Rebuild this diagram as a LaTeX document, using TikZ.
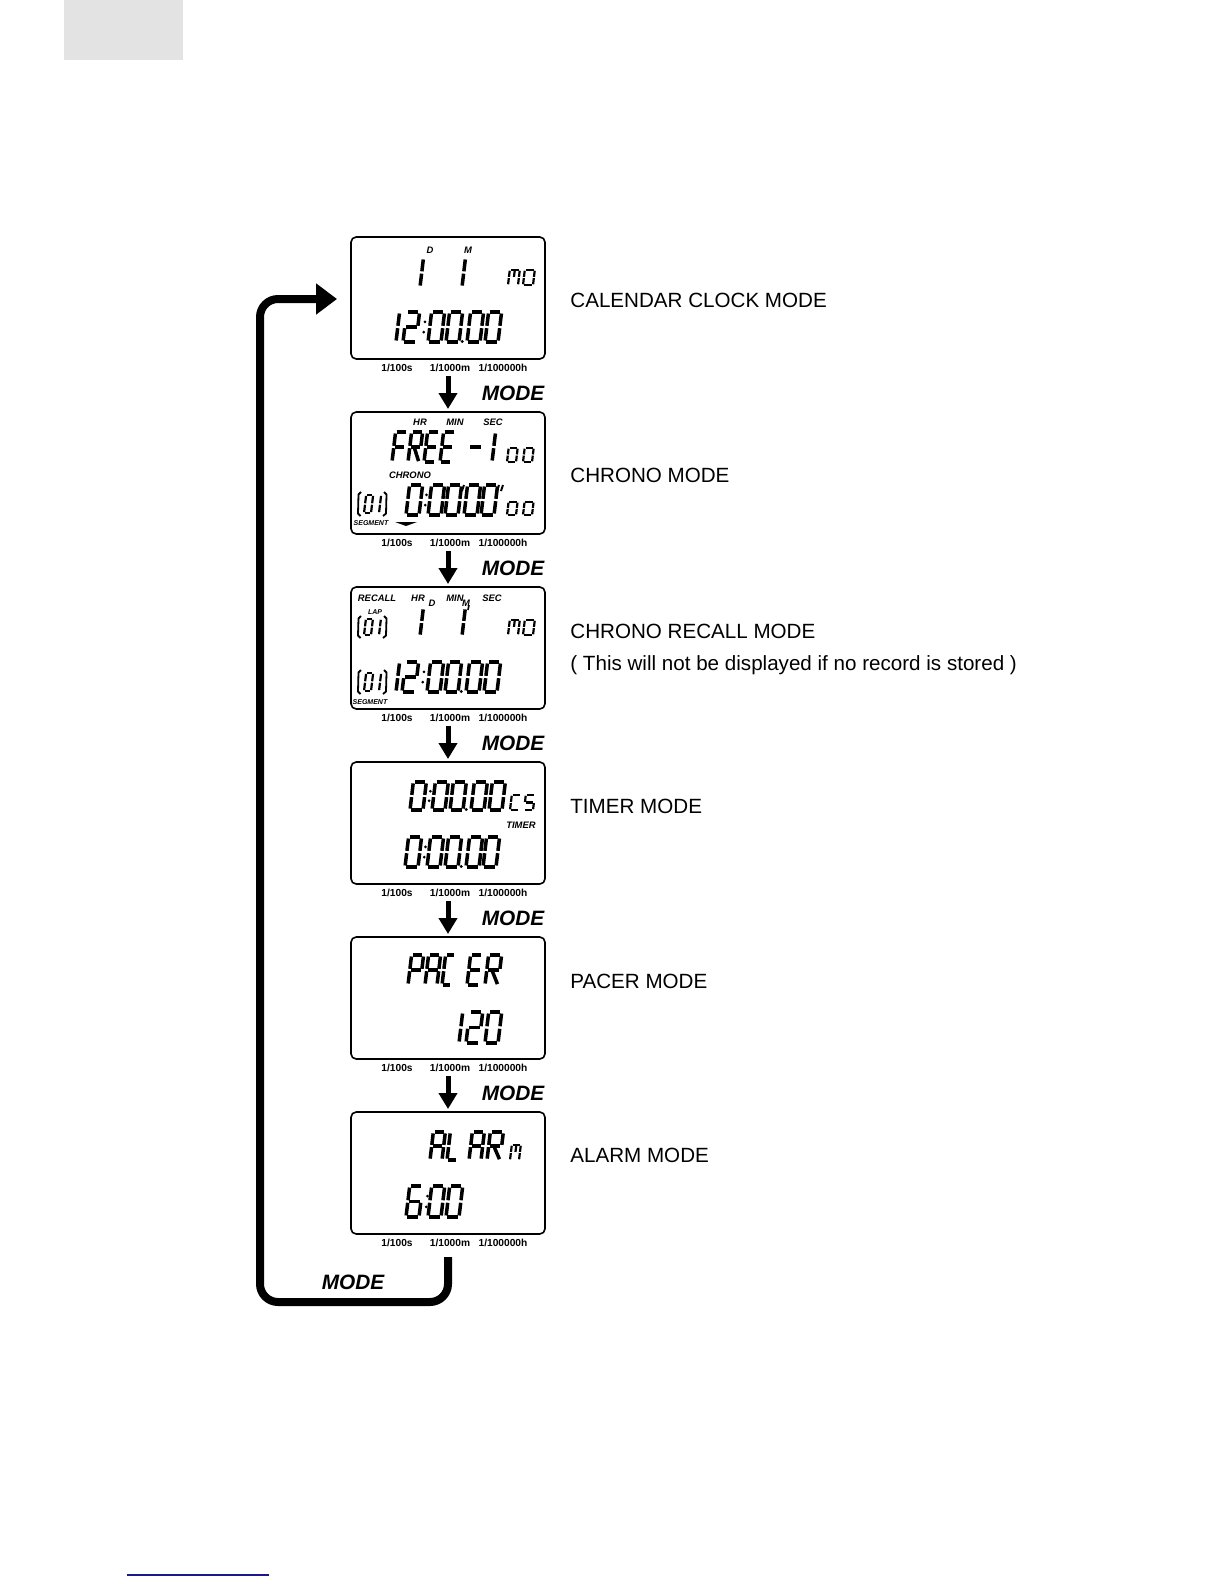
\documentclass[tikz,border=0pt]{standalone}
\usepackage{fontspec}
\setmainfont{Liberation Sans}
\usetikzlibrary{arrows.meta}
\definecolor{navyline}{RGB}{25,25,140}
\definecolor{graybox}{RGB}{227,227,227}
% seven-segment pieces (local unit square: width 1, height 1, y up)
\def\sgA{\draw (0.1,1)--(0.9,1);}
\def\sgB{\draw (1,0.95)--(1,0.54);}
\def\sgC{\draw (1,0.46)--(1,0.05);}
\def\sgD{\draw (0.1,0)--(0.9,0);}
\def\sgE{\draw (0,0.05)--(0,0.46);}
\def\sgF{\draw (0,0.54)--(0,0.95);}
\def\sgG{\draw (0.1,0.5)--(0.9,0.5);}
\def\sgH{\draw (0.5,0.54)--(0.5,0.95);}
\def\sgI{\draw (0.5,0.05)--(0.5,0.46);}
\def\sgR{\draw (0.45,0.45)--(0.95,0.03);}
\newcommand\lcdchar[6][1.75pt]{%
  \begin{scope}[shift={(#2,#3)},xslant=0.12,xscale=#4,yscale=-#5,line width=#1]
    \foreach \s in {#6}{\csname sg\s\endcsname}
  \end{scope}}
\newcommand\lcdcolon[3]{% x, ybottom, h
  \fill ({#1+0.12*#3*0.33},{#2-#3*0.33}) circle[radius=1.5];
  \fill ({#1+0.12*#3*0.67},{#2-#3*0.67}) circle[radius=1.5];}
\newcommand\lcddot[2]{\fill (#1,#2) circle[radius=1.6];}
\newcommand\lcdbrk[4]{% xleft, xright, ytop, ybottom
  \draw[line width=0.9pt] ({#1+3},#3) -- ({#1+0.5},{#3+2.5}) -- (#1,{#4-2.5}) -- ({#1+2.5},#4);
  \draw[line width=0.9pt] ({#2-2},#3) -- ({#2+0.5},{#3+2.5}) -- (#2,{#4-2.5}) -- ({#2-3},#4);}
\newcommand\lcdzeroone[3]{% xleft, ytop, ybottom
  \pgfmathsetmacro\zoxr{#1+28}%
  \pgfmathsetmacro\zoxa{#1+6}%
  \pgfmathsetmacro\zoxb{#1+14}%
  \pgfmathsetmacro\zoy{#3-3}%
  \pgfmathsetmacro\zoh{#3-#2-6}%
  \lcdbrk{#1}{\zoxr}{#2}{#3}%
  \lcdchar[1.1pt]{\zoxa}{\zoy}{7}{\zoh}{A,B,C,D,E,F}%
  \lcdchar[1.1pt]{\zoxb}{\zoy}{7}{\zoh}{B,C}}
\begin{document}
\begin{tikzpicture}[x=0.5pt,y=-0.5pt,
  lcdbox/.style={draw,line width=0.8pt,rounded corners=2.6pt,minimum width=97pt,minimum height=61pt,inner sep=0pt},
  tinylbl/.style={font=\bfseries\itshape\fontsize{4.7}{5}\selectfont,inner sep=0pt},
  seglbl/.style={font=\bfseries\itshape\fontsize{3.5}{4}\selectfont,inner sep=0pt},
  scllbl/.style={font=\bfseries\fontsize{5.1}{6}\selectfont,inner sep=0pt},
  modelbl/.style={font=\bfseries\itshape\fontsize{10.4}{12}\selectfont,inner sep=0pt},
  desc/.style={font=\fontsize{10.3}{12}\selectfont,inner sep=0pt,anchor=base west},
  modearrow/.style={line width=2.5pt,-{Triangle[width=9pt,length=8pt]}},
  loopline/.style={line width=4pt,rounded corners=9pt,-{Triangle[width=15pt,length=10.5pt]}}]
\useasboundingbox (0,0) rectangle (1224,1584);
% page decorations
\fill[graybox] (64,0) rectangle (183,60);
\draw[navyline,line width=0.8pt] (127,1575) -- (269,1575);
% boxes
\foreach \k in {0,...,5}{
  \node[lcdbox] (b\k) at (448,{298+175*\k}) {};
  \node[scllbl] (sa\k) at (397,{368+175*\k}) {1/100s};
  \node[scllbl] (sb\k) at (450,{368+175*\k}) {1/1000m};
  \node[scllbl] (sc\k) at (503,{368+175*\k}) {1/100000h};
}
\foreach \k in {0,...,4}{
  \coordinate (as\k) at (448,{376+175*\k});
  \coordinate (ae\k) at (448,{409+175*\k});
  \draw[modearrow] (as\k) -- (ae\k);
  \node[modelbl] (m\k) at (513,{393+175*\k}) {MODE};
}
% loop back
\coordinate (l0) at (448,1257);
\coordinate (l1) at (448,1302);
\coordinate (l2) at (260,1302);
\coordinate (l3) at (260,299);
\coordinate (l4) at (337,299);
\draw[loopline] (l0) -- (l1) -- (l2) -- (l3) -- (l4);
\node[modelbl] (mloop) at (353,1282) {MODE};
% descriptions
\node[desc] (d1) at (570,307.5) {CALENDAR CLOCK MODE};
\node[desc] (d2) at (570,482) {CHRONO MODE};
\node[desc] (d3) at (570,638.5) {CHRONO RECALL MODE};
\node[desc] (d3b) at (570,670) {( This will not be displayed if no record is stored )};
\node[desc] (d4) at (570,813.5) {TIMER MODE};
\node[desc] (d5) at (570,988.5) {PACER MODE};
\node[desc] (d6) at (570,1162.5) {ALARM MODE};
% ---------- box 1: calendar clock
\node[tinylbl] (t1d) at (430,250) {D};
\node[tinylbl] (t1m) at (468,250) {M};
\lcdchar{408}{287}{12}{29}{B,C}
\lcdchar{450}{287}{12}{29}{B,C}
\lcdchar[1.1pt]{508}{285}{10}{15}{A,B,C,E,F,H}
\lcdchar[1.1pt]{523}{285}{10}{15}{A,B,C,D,E,F}
\lcdchar{383}{342}{13}{30}{B,C}
\lcdchar{403}{342}{13}{30}{A,B,G,E,D}
\lcdcolon{422.5}{342}{30}
\lcdchar{428}{342}{13}{30}{A,B,C,D,E,F}
\lcdchar{446}{342}{13}{30}{A,B,C,D,E,F}
\lcddot{462.3}{341.5}
\lcdchar{467}{342}{13}{30}{A,B,C,D,E,F}
\lcdchar{485}{342}{13}{30}{A,B,C,D,E,F}
% ---------- box 2: chrono
\node[tinylbl] (t2hr) at (420,422) {HR};
\node[tinylbl] (t2min) at (455,422) {MIN};
\node[tinylbl] (t2sec) at (493,422) {SEC};
\lcdchar{392}{462}{11}{30}{A,F,G,E}
\lcdchar{408}{462}{11}{30}{A,B,F,G,E,R}
\lcdchar{424}{462}{11}{30}{A,F,G,E,D}
\lcdchar{440}{462}{11}{30}{A,F,G,E,D}
\lcdchar{467}{462}{13}{30}{G}
\lcdchar{480}{462}{12}{30}{B,C}
\lcdchar[1.1pt]{507}{462}{9}{14}{A,B,C,D,E,F}
\lcdchar[1.1pt]{523}{462}{9}{14}{A,B,C,D,E,F}
\node[tinylbl] (t2chr) at (410,475) {CHRONO};
\lcdzeroone{358}{492}{516}
\lcdchar{406}{515}{13}{30}{A,B,C,D,E,F}
\lcdcolon{424}{515}{30}
\lcdchar{428}{515}{13}{30}{A,B,C,D,E,F}
\lcdchar{445}{515}{13}{30}{A,B,C,D,E,F}
\draw[line width=1pt] (464,485) -- (462,491);
\lcdchar{464}{515}{13}{30}{A,B,C,D,E,F}
\lcdchar{481}{515}{13}{30}{A,B,C,D,E,F}
\draw[line width=1pt] (499,485) -- (497,491);
\draw[line width=1pt] (503,485) -- (501,491);
\lcdchar[1.1pt]{507}{515}{9}{13}{A,B,C,D,E,F}
\lcdchar[1.1pt]{523}{515}{9}{13}{A,B,C,D,E,F}
\node[seglbl] (t2seg) at (371,523) {SEGMENT};
\fill (395,522) -- (417,522) -- (406,526) -- cycle;
% ---------- box 3: chrono recall
\node[tinylbl] (t3rec) at (377,598) {RECALL};
\node[tinylbl] (t3hr) at (418,598) {HR};
\node[tinylbl] (t3d) at (432,603) {D};
\node[tinylbl] (t3min) at (455,598) {MIN};
\node[tinylbl] (t3m) at (466,603) {M};
\node[tinylbl] (t3sec) at (492,598) {SEC};
\node[seglbl] (t3lap) at (375,612) {LAP};
\draw[line width=0.8pt] (469,605) -- (468,610);
\lcdzeroone{358}{616}{638}
\lcdchar{408}{636}{12}{28}{B,C}
\lcdchar{450}{636}{12}{28}{B,C}
\lcdchar[1.1pt]{508}{635}{10}{15}{A,B,C,E,F,H}
\lcdchar[1.1pt]{523}{635}{10}{15}{A,B,C,D,E,F}
\lcdzeroone{358}{670}{694}
\lcdchar{383}{692}{13}{30}{B,C}
\lcdchar{402}{692}{13}{30}{A,B,G,E,D}
\lcdcolon{421.5}{692}{30}
\lcdchar{427}{692}{13}{30}{A,B,C,D,E,F}
\lcdchar{445}{692}{13}{30}{A,B,C,D,E,F}
\lcddot{461.3}{691.5}
\lcdchar{466}{692}{13}{30}{A,B,C,D,E,F}
\lcdchar{484}{692}{13}{30}{A,B,C,D,E,F}
\node[seglbl] (t3seg) at (370,702) {SEGMENT};
% ---------- box 4: timer
\lcdchar{410}{810}{13}{28}{A,B,C,D,E,F}
\lcdcolon{428}{810}{28}
\lcdchar{432}{810}{13}{28}{A,B,C,D,E,F}
\lcdchar{450}{810}{13}{28}{A,B,C,D,E,F}
\lcddot{466.3}{809.5}
\lcdchar{471}{810}{13}{28}{A,B,C,D,E,F}
\lcdchar{489}{810}{13}{28}{A,B,C,D,E,F}
\lcdchar[1.1pt]{510}{810}{9}{15}{A,F,E,D}
\lcdchar[1.1pt]{524}{810}{9}{15}{A,F,G,C,D}
\node[tinylbl] (t4tim) at (521,825) {TIMER};
\lcdchar{405}{867}{13}{30}{A,B,C,D,E,F}
\lcdcolon{423}{867}{30}
\lcdchar{427}{867}{13}{30}{A,B,C,D,E,F}
\lcdchar{445}{867}{13}{30}{A,B,C,D,E,F}
\lcddot{461.3}{866.5}
\lcdchar{466}{867}{13}{30}{A,B,C,D,E,F}
\lcdchar{483}{867}{13}{30}{A,B,C,D,E,F}
% ---------- box 5: pacer
\lcdchar{408}{985}{12}{30}{A,B,F,G,E}
\lcdchar{425}{985}{12}{30}{A,B,C,E,F,G}
\lcdchar{442}{985}{9}{30}{A,F,E,D}
\lcdchar{467}{985}{12}{30}{A,F,G,E,D}
\lcdchar{485}{985}{13}{30}{A,B,F,G,E,R}
\lcdchar{447}{1043}{12}{31}{B,C}
\lcdchar{466}{1043}{13}{31}{A,B,G,E,D}
\lcdchar{485}{1043}{13}{31}{A,B,C,D,E,F}
% ---------- box 6: alarm
\lcdchar{430}{1160}{12}{28}{A,B,C,E,F,G}
\lcdchar{447}{1160}{10}{28}{F,E,D}
\lcdchar{469}{1160}{12}{28}{A,B,C,E,F,G}
\lcdchar{487}{1160}{13}{28}{A,B,F,G,E,R}
\lcdchar[1.1pt]{510}{1160}{9}{15}{A,B,C,E,F,H}
\lcdchar{406}{1217}{13}{31}{A,F,G,E,D,C}
\lcdcolon{425}{1217}{31}
\lcdchar{428}{1217}{13}{31}{A,B,C,D,E,F}
\lcdchar{446}{1217}{13}{31}{A,B,C,D,E,F}
\end{tikzpicture}
\end{document}
